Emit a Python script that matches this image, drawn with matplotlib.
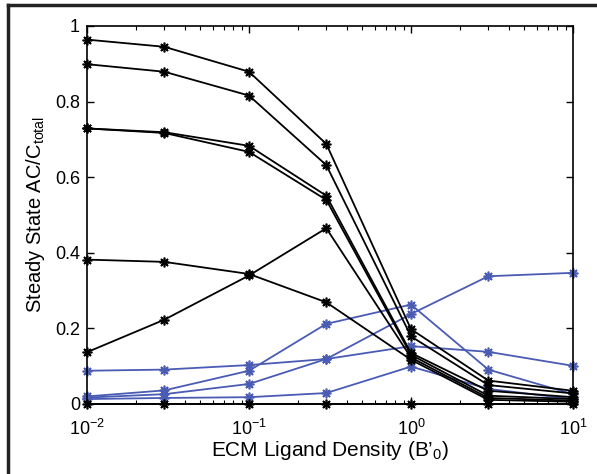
import numpy as np
import matplotlib.pyplot as plt
from matplotlib.lines import Line2D

plt.rcParams['font.family'] = ['Liberation Sans', 'DejaVu Sans']
plt.rcParams['mathtext.fontset'] = 'custom'
plt.rcParams['mathtext.rm'] = 'Liberation Sans'
plt.rcParams['mathtext.it'] = 'Liberation Sans'

# ligand density values
x = [0.01, 0.03, 0.1, 0.3, 1, 3, 10]

# black curves
black = [
    [0.964, 0.945, 0.879, 0.688, 0.198, 0.062, 0.035],
    [0.899, 0.879, 0.816, 0.632, 0.179, 0.050, 0.028],
    [0.729, 0.719, 0.683, 0.551, 0.135, 0.035, 0.018],
    [0.729, 0.717, 0.667, 0.540, 0.130, 0.022, 0.013],
    [0.382, 0.376, 0.344, 0.269, 0.117, 0.011, 0.006],
    [0.137, 0.223, 0.340, 0.465, 0.123, 0.016, 0.009],
    [0.0, 0.0, 0.0, 0.0, 0.0, 0.0, 0.0],
]

# blue curves
blue = [
    [0.088, 0.091, 0.103, 0.119, 0.153, 0.138, 0.101],
    [0.020, 0.036, 0.088, 0.212, 0.263, 0.091, 0.026],
    [0.017, 0.026, 0.053, 0.119, 0.238, 0.338, 0.347],
    [0.013, 0.016, 0.018, 0.029, 0.099, 0.040, 0.013],
]

fig = plt.figure(figsize=(5.97, 4.74), dpi=100)
ax = fig.add_axes([87/597, 1-404/474, (573-87)/597, (404-26)/474])

ast = (8, 2, 0)
for y in blue:
    ax.plot(x, y, color='#4a5bb4', lw=1.3, marker=ast, ms=7, mew=1.2, clip_on=False)
for y in black:
    ax.plot(x, y, color='black', lw=1.3, marker=ast, ms=7, mew=1.2, clip_on=False, zorder=3)

ax.set_xscale('log')
ax.set_xlim(0.01, 10)
ax.set_ylim(0, 1)
ax.set_yticks([0, 0.2, 0.4, 0.6, 0.8, 1])
ax.set_yticklabels(['0', '0.2', '0.4', '0.6', '0.8', '1'])
ax.tick_params(which='both', direction='in', top=True, right=True, labelsize=13)
ax.tick_params(which='major', length=5, width=1)
ax.tick_params(which='minor', length=3, width=0.8)
ax.tick_params(axis='x', which='major', pad=11)
ax.tick_params(axis='y', which='major', pad=5)
for s in ax.spines.values():
    s.set_linewidth(1.2)

ax.set_xlabel("ECM Ligand Density (B\u2019$_0$)", fontsize=15, labelpad=0)
ax.set_ylabel("Steady State AC/C$_{total}$", fontsize=14.5, labelpad=6)

# outer frame (left and top edges visible)
fig.add_artist(Line2D([8/597, 8/597], [0, 1-5/474], color='#222222', lw=2.5, transform=fig.transFigure))
fig.add_artist(Line2D([8/597, 1], [1-5/474, 1-5/474], color='#222222', lw=2.5, transform=fig.transFigure))

fig.savefig('out.png', dpi=100)
